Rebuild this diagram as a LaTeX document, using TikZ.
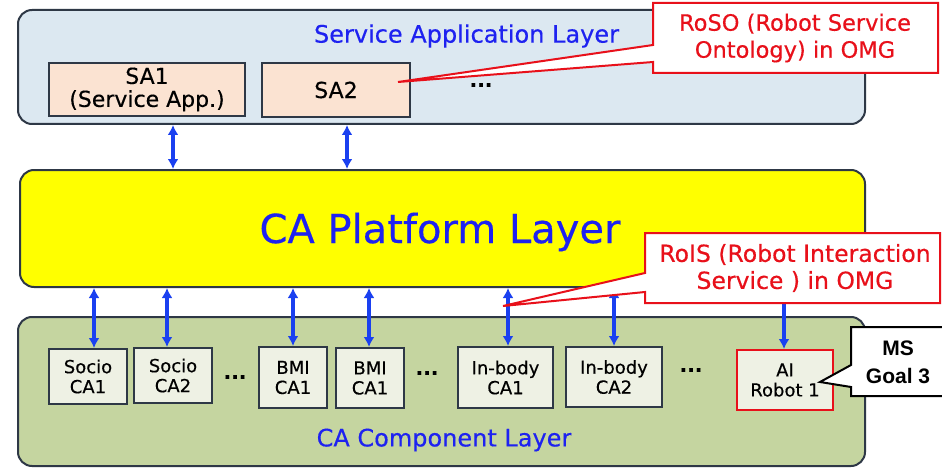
\documentclass[tikz,border=0pt]{standalone}
\usepackage{fontspec}
\setmainfont[FakeBold=0.4]{DejaVu Sans}
\newfontfamily\msfont{Liberation Sans}
\usetikzlibrary{arrows.meta}
\definecolor{edgecol}{HTML}{2E3846}
\definecolor{topfill}{HTML}{DCE8F1}
\definecolor{midfill}{HTML}{FFFF00}
\definecolor{botfill}{HTML}{C5D5A0}
\definecolor{safill}{HTML}{FBE3D2}
\definecolor{cafill}{HTML}{EEF1E4}
\definecolor{titleblue}{HTML}{1E22F0}
\definecolor{arrowblue}{HTML}{1A40F0}
\definecolor{calred}{HTML}{E8101A}
\begin{document}
\begin{tikzpicture}[x=1pt,y=-1pt,
  layer/.style={draw=edgecol, line width=2pt, rounded corners=14pt, inner sep=0},
  sabox/.style={draw=edgecol, line width=2pt, fill=safill, inner sep=0, align=center, font=\fontsize{22}{23}\selectfont},
  cabox/.style={draw=edgecol, line width=2pt, fill=cafill, inner sep=0, align=center, font=\fontsize{18}{20}\selectfont},
  title/.style={text=titleblue, inner sep=0},
  dotsnode/.style={inner sep=0, font=\fontsize{20}{20}\selectfont\bfseries},
  biarrow/.style={draw=arrowblue, line width=3.4pt, {Latex[length=10pt,width=11pt]}-{Latex[length=10pt,width=11pt]}},
  callout/.style={draw=calred, line width=2pt, fill=white, line join=miter},
  calltext/.style={text=calred, inner sep=0, align=center}
]
\useasboundingbox (0,0) rectangle (942,468);
\fill[white] (0,0) rectangle (942,468);

% layers
\node[layer, fill=topfill, minimum width=847, minimum height=114] (top) at (441.5,67) {};
\node[layer, fill=midfill, minimum width=845, minimum height=117] (mid) at (442.5,228.5) {};
\node[layer, fill=botfill, minimum width=847, minimum height=149] (bot) at (441.5,391.5) {};

\node[title, font=\fontsize{24}{24}\selectfont] (toptitle) at (466.5,36) {Service Application Layer};
\node[title, font=\fontsize{40}{40}\selectfont] (midtitle) at (440,232) {CA Platform Layer};
\node[title, font=\fontsize{24}{24}\selectfont] (bottitle) at (444,440) {CA Component Layer};

% service apps
\node[sabox, minimum width=196, minimum height=53] (sa1) at (147,89.5) {SA1\\(Service App.)};
\node[sabox, minimum width=148, minimum height=54] (sa2) at (336,90) {SA2};
\node[dotsnode] (sadots) at (481,85) {...};

% components
\node[cabox, minimum width=78, minimum height=55] (soc1) at (88,376.5) {Socio\\CA1};
\node[cabox, minimum width=78, minimum height=55] (soc2) at (173,375.5) {Socio\\CA2};
\node[dotsnode] (dots1) at (235,377) {...};
\node[cabox, minimum width=68, minimum height=61] (bmi1) at (293,377.5) {BMI\\CA1};
\node[cabox, minimum width=68, minimum height=60] (bmi2) at (370,378) {BMI\\CA1};
\node[dotsnode] (dots2) at (427,373) {...};
\node[cabox, minimum width=95, minimum height=61] (inb1) at (505.5,377.5) {In-body\\CA1};
\node[cabox, minimum width=96, minimum height=60] (inb2) at (614,377) {In-body\\CA2};
\node[dotsnode] (dots3) at (691,370) {...};
\node[cabox, draw=calred, minimum width=96, minimum height=60] (ai) at (785,380) {AI\\Robot 1};

% arrows
\draw[biarrow] ([xshift=26]sa1.south |- top.south) -- ([xshift=26]sa1.south |- mid.north);
\draw[biarrow] ([xshift=11]sa2.south |- top.south) -- ([xshift=11]sa2.south |- mid.north);
\draw[biarrow] ([xshift=6]soc1.north |- mid.south) -- ([xshift=6]soc1.north);
\draw[biarrow] ([xshift=-6]soc2.north |- mid.south) -- ([xshift=-6]soc2.north);
\draw[biarrow] (bmi1.north |- mid.south) -- (bmi1.north);
\draw[biarrow] ([xshift=-1]bmi2.north |- mid.south) -- ([xshift=-1]bmi2.north);
\draw[biarrow] ([xshift=2.5]inb1.north |- mid.south) -- ([xshift=2.5]inb1.north);
\draw[biarrow] (inb2.north |- mid.south) -- (inb2.north);
\draw[biarrow] ([xshift=-1]ai.north |- mid.south) -- ([xshift=-1]ai.north);

% RoSO callout
\coordinate (rosotip) at (398,82);
\draw[callout] (653,3) -- (938,3) -- (938,73) -- (653,73) -- (653,62) -- (rosotip) -- (653,45) -- cycle;
\node[calltext, font=\fontsize{22.5}{27}\selectfont] (roso) at (795,38) {RoSO (Robot Service\\Ontology) in OMG};

% RoIS callout
\coordinate (roistip) at (503,306);
\draw[callout] (645,233) -- (940,233) -- (940,303) -- (645,303) -- (645,292) -- (roistip) -- (645,273) -- cycle;
\node[calltext, font=\fontsize{23.5}{27}\selectfont] (rois) at (795,268) {RoIS (Robot Interaction\\Service ) in OMG};

% MS Goal 3 callout
\coordinate (mstip) at (820,382);
\draw[draw=black, line width=2pt, fill=white] (851,327) -- (946,327) -- (946,396) -- (851,396) -- (851,387) -- (mstip) -- (851,365) -- cycle;
\node[inner sep=0, align=center, font=\msfont\bfseries\fontsize{21}{28}\selectfont] (ms) at (898,362) {MS\\Goal 3};
\end{tikzpicture}
\end{document}
